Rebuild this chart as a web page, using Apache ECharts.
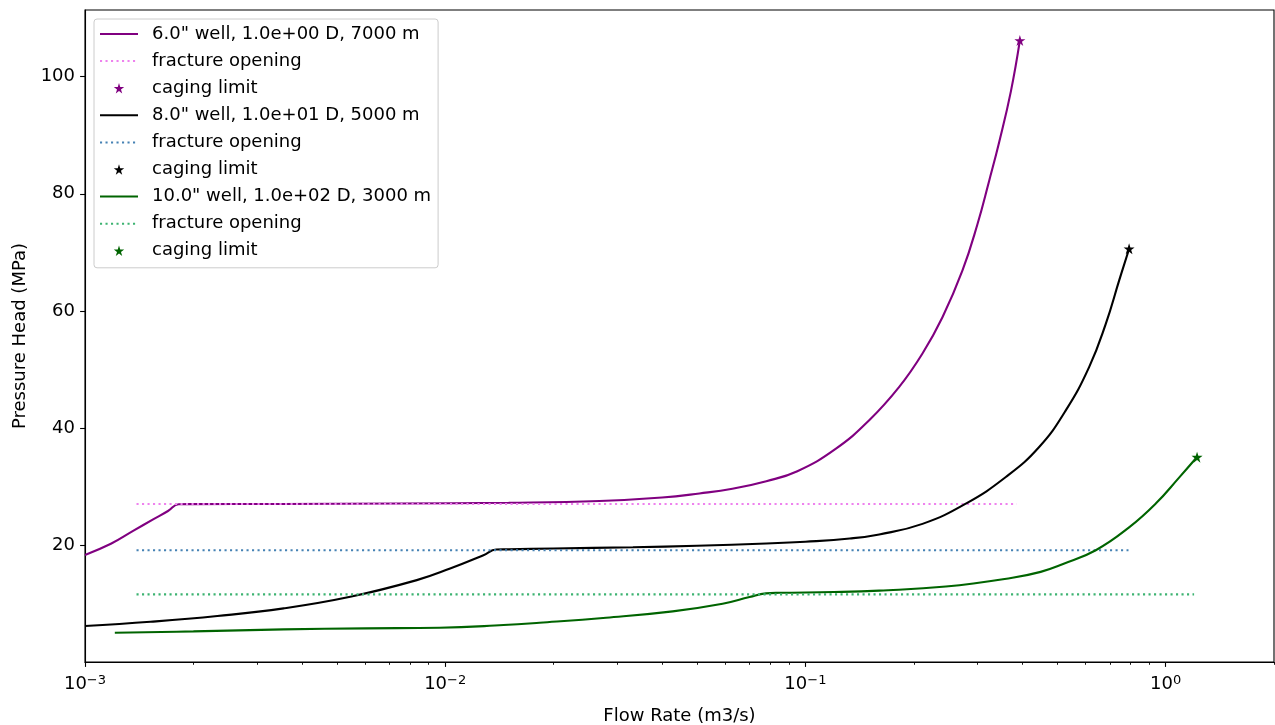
<!DOCTYPE html>
<html>
<head>
<meta charset="utf-8">
<script src="https://cdn.jsdelivr.net/npm/echarts@6/dist/echarts.min.js"></script>
<style>
html,body{margin:0;padding:0;background:#fff;}
#chart{width:1275px;height:725px;}
</style>
</head>
<body>
<div id="chart"></div>
<script>
// ---- data ----
const well6Q = [0.001, 0.00118, 0.00136, 0.00155, 0.00170, 0.00182, 0.00195, 0.0035, 0.0075, 0.015, 0.0268, 0.0400, 0.0508, 0.0627, 0.0779, 0.0950, 0.1216, 0.1504, 0.1822, 0.2114, 0.2402, 0.2730, 0.3004, 0.3237, 0.3451, 0.3720, 0.3940];
const well6P = [18.3, 20.2, 22.4, 24.4, 25.8, 26.95, 26.97, 27.0, 27.07, 27.2, 27.5, 28.1, 28.8, 29.6, 30.9, 32.6, 36.45, 41.3, 47.0, 52.7, 58.9, 66.9, 74.8, 82.2, 88.8, 97.5, 106.2];

const well8Q = [0.001, 0.00152, 0.00233, 0.00356, 0.00545, 0.00834, 0.01032, 0.01277, 0.01385, 0.0150, 0.0200, 0.0332, 0.0500, 0.0779, 0.1000, 0.1329, 0.1603, 0.2114, 0.2790, 0.3602, 0.4457, 0.5284, 0.6134, 0.6823, 0.7430, 0.7919];
const well8P = [6.15, 6.87, 7.85, 9.16, 11.14, 13.99, 15.98, 18.25, 19.22, 19.25, 19.4, 19.6, 19.85, 20.24, 20.55, 21.1, 21.8, 23.6, 27.07, 31.61, 36.73, 42.99, 50.38, 57.77, 65.16, 70.57];

const well10Q = [0.00121, 0.0020, 0.00356, 0.0060, 0.00964, 0.01452, 0.01827, 0.02797, 0.04281, 0.05891, 0.07000, 0.0777, 0.0846, 0.1200, 0.1603, 0.2455, 0.3757, 0.4500, 0.5172, 0.6401, 0.7919, 0.9393, 1.0902, 1.2230];
const well10P = [5.0, 5.23, 5.58, 5.75, 5.85, 6.31, 6.70, 7.56, 8.65, 9.95, 11.1, 11.72, 11.82, 11.95, 12.2, 12.9, 14.4, 15.4, 16.7, 19.10, 23.0, 27.07, 31.5, 35.02];

const fracQ6 = [0.00139, 0.386];   const fracP6 = [27.0, 27.0];
const fracQ8 = [0.00139, 0.789];   const fracP8 = [19.1, 19.1];
const fracQ10 = [0.00139, 1.20];   const fracP10 = [11.55, 11.55];

const cageQ = [0.394, 0.792, 1.223];
const cageP = [106.2, 70.6, 35.0];

const lineNames = ['6.0" well, 1.0e+00 D, 7000 m', '8.0" well, 1.0e+01 D, 5000 m', '10.0" well, 1.0e+02 D, 3000 m'];
const fracName = 'fracture opening';
const cageName = 'caging limit';

const xMajorTicks = [0.001, 0.01, 0.1, 1];
const xMinorTicks = [0.002,0.003,0.004,0.005,0.006,0.007,0.008,0.009,
                     0.02,0.03,0.04,0.05,0.06,0.07,0.08,0.09,
                     0.2,0.3,0.4,0.5,0.6,0.7,0.8,0.9, 2];
const yTicks = [20, 40, 60, 80, 100];

// ---- styling ----
const FONT = 'DejaVu Sans';
const FS = 18;
const lineColors = ['#800080', '#000000', '#006400'];
const fracColors = ['#ee82ee', '#4682b4', '#3cb371'];
const STAR = 'path://M0,-1 L0.2245,-0.309 L0.951,-0.309 L0.363,0.118 L0.588,0.809 L0,0.382 L-0.588,0.809 L-0.363,0.118 L-0.951,-0.309 L-0.2245,-0.309 Z';

function pairs(xs, ys) { return xs.map((x, i) => [x, ys[i]]); }
const zw = n => '\u200b'.repeat(n);

const curves = [[well6Q, well6P], [well8Q, well8P], [well10Q, well10P]];
const fracs = [[fracQ6, fracP6], [fracQ8, fracP8], [fracQ10, fracP10]];

const series = [];
const legendData = [];
for (let i = 0; i < 3; i++) {
  const ln = lineNames[i];
  const fn = fracName + zw(i);
  const cn = cageName + zw(i);
  series.push({
    name: ln, type: 'line', data: pairs(curves[i][0], curves[i][1]),
    symbol: 'none', smooth: 0.45, xAxisIndex: 0,
    lineStyle: { color: lineColors[i], width: 2.1 }, itemStyle: { color: lineColors[i] }
  });
  series.push({
    name: fn, type: 'line', data: pairs(fracs[i][0], fracs[i][1]),
    symbol: 'none', xAxisIndex: 0,
    lineStyle: { color: fracColors[i], width: 2.1, type: [2.1, 3.4], cap: 'butt' }, itemStyle: { color: fracColors[i] }
  });
  series.push({
    name: cn, type: 'line', data: [[cageQ[i], cageP[i]]],
    symbol: STAR, symbolSize: 11, showSymbol: true, xAxisIndex: 0,
    lineStyle: { width: 0, opacity: 0 }, itemStyle: { color: lineColors[i] }
  });
  legendData.push({ name: ln, itemStyle: { opacity: 0 } });
  legendData.push({ name: fn, itemStyle: { opacity: 0 } });
  legendData.push({ name: cn });
}

const supMap = { '-': '\u2212', '0': '0', '1': '1', '2': '2', '3': '3' };

const chart = echarts.init(document.getElementById('chart'), null, { renderer: 'canvas' });
chart.setOption({
  animation: false,
  backgroundColor: '#ffffff',
  textStyle: { fontFamily: FONT },
  grid: { left: 85, right: 1, top: 10, bottom: 63, containLabel: false, outerBoundsMode: 'none',
          show: true, borderColor: '#000', borderWidth: 1.1, backgroundColor: 'transparent' },
  legend: {
    orient: 'vertical', left: 94, top: 19,
    padding: [6, 7, 8, 5], itemGap: 9.1, itemWidth: 38, itemHeight: 13,
    backgroundColor: 'rgba(255,255,255,0.8)', borderColor: '#cccccc', borderWidth: 1, borderRadius: 3,
    textStyle: { fontSize: FS, fontFamily: FONT, color: '#000', padding: [0, 0, 0, 9], lineHeight: 18 },
    selectedMode: false,
    data: legendData
  },
  xAxis: [{
    type: 'log', logBase: 10, min: 0.001, max: 2, position: 'bottom',
    name: 'Flow Rate (m3/s)', nameLocation: 'middle', nameGap: 45,
    nameTextStyle: { fontSize: FS, fontFamily: FONT, color: '#000', lineHeight: 18 },
    axisLine: { show: true, lineStyle: { color: '#000', width: 1.1 } },
    axisTick: { show: true, customValues: xMajorTicks, length: 4.9, lineStyle: { color: '#000', width: 1.1 } },
    axisLabel: {
      customValues: xMajorTicks, margin: 13, color: '#000', fontFamily: FONT,
      formatter: v => {
        const e = String(Math.round(Math.log10(v)));
        return '{b|10}{s|' + e.split('').map(c => supMap[c]).join('') + '}';
      },
      rich: {
        b: { fontSize: FS, fontFamily: FONT, color: '#000', lineHeight: 18 },
        s: { fontSize: 13, fontFamily: FONT, color: '#000', lineHeight: 13, padding: [0, 0, 7, 0] }
      }
    },
    splitLine: { show: false }, minorTick: { show: false }
  }, {
    type: 'log', logBase: 10, min: 0.001, max: 2, position: 'bottom',
    axisLine: { show: false },
    axisTick: { show: true, customValues: xMinorTicks, length: 2.8, lineStyle: { color: '#000', width: 0.9 } },
    axisLabel: { show: false }, splitLine: { show: false }
  }],
  yAxis: {
    type: 'value', min: 0, max: 111.4, interval: 20,
    name: 'Pressure Head (MPa)', nameLocation: 'middle', nameGap: 56, nameRotate: 90,
    nameTextStyle: { fontSize: FS, fontFamily: FONT, color: '#000', lineHeight: 18 },
    axisLine: { show: true, lineStyle: { color: '#000', width: 1.1 } },
    axisTick: { show: true, customValues: yTicks, length: 4.9, lineStyle: { color: '#000', width: 1.1 } },
    axisLabel: { customValues: yTicks, fontSize: FS, fontFamily: FONT, color: '#000', margin: 10 },
    splitLine: { show: false }
  },
  series: series
});
</script>
</body>
</html>
